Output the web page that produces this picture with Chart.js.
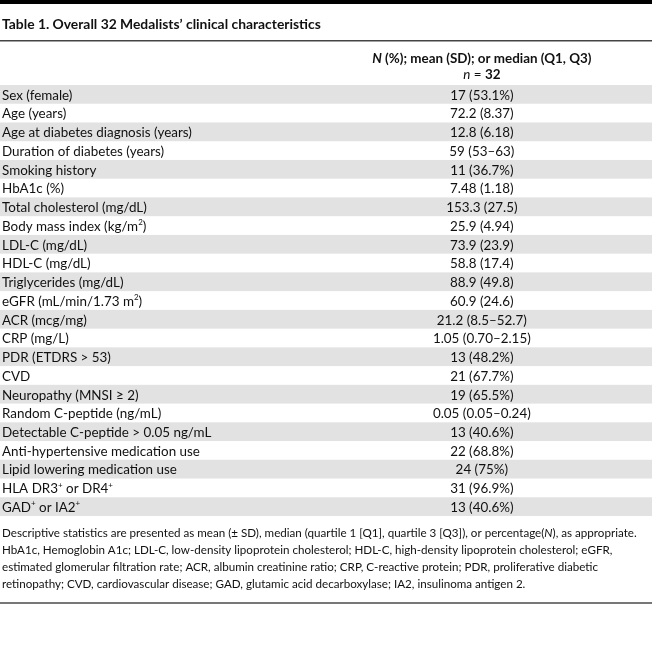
<!DOCTYPE html>
<html>
<head>
<meta charset="utf-8">
<script src="https://cdn.jsdelivr.net/npm/chart.js@4.4.1/dist/chart.umd.min.js"></script>
<style>
  body { margin: 0; background: #fff; }
  canvas { display: block; }
</style>
</head>
<body>
<canvas id="tableChart" width="652" height="669"></canvas>
<script>
const titleText = "Table 1. Overall 32 Medalists’ clinical characteristics";

// header of the value column, as runs of text: [text, style]
const headerLine1 = [["N", "bi"], [" (%); mean (SD); or median (Q1, Q3)", "b"]];
const headerLine2 = [["n", "i"], [" = ", ""], ["32", "b"]];

const rowLabels = [
  "Sex (female)",
  "Age (years)",
  "Age at diabetes diagnosis (years)",
  "Duration of diabetes (years)",
  "Smoking history",
  "HbA1c (%)",
  "Total cholesterol (mg/dL)",
  "Body mass index (kg/m²)",
  "LDL-C (mg/dL)",
  "HDL-C (mg/dL)",
  "Triglycerides (mg/dL)",
  "eGFR (mL/min/1.73 m²)",
  "ACR (mcg/mg)",
  "CRP (mg/L)",
  "PDR (ETDRS > 53)",
  "CVD",
  "Neuropathy (MNSI ≥ 2)",
  "Random C-peptide (ng/mL)",
  "Detectable C-peptide > 0.05 ng/mL",
  "Anti-hypertensive medication use",
  "Lipid lowering medication use",
  "HLA DR3⁺ or DR4⁺",
  "GAD⁺ or IA2⁺",
];

const rowValues = [
  "17 (53.1%)",
  "72.2 (8.37)",
  "12.8 (6.18)",
  "59 (53–63)",
  "11 (36.7%)",
  "7.48 (1.18)",
  "153.3 (27.5)",
  "25.9 (4.94)",
  "73.9 (23.9)",
  "58.8 (17.4)",
  "88.9 (49.8)",
  "60.9 (24.6)",
  "21.2 (8.5–52.7)",
  "1.05 (0.70–2.15)",
  "13 (48.2%)",
  "21 (67.7%)",
  "19 (65.5%)",
  "0.05 (0.05–0.24)",
  "13 (40.6%)",
  "22 (68.8%)",
  "24 (75%)",
  "31 (96.9%)",
  "13 (40.6%)",
];

const noteLines = [
  [["Descriptive statistics are presented as mean (± SD), median (quartile 1 [Q1], quartile 3 [Q3]), or percentage(", ""], ["N", "i"], ["), as appropriate.", ""]],
  [["HbA1c, Hemoglobin A1c; LDL-C, low-density lipoprotein cholesterol; HDL-C, high-density lipoprotein cholesterol; eGFR,", ""]],
  [["estimated glomerular filtration rate; ACR, albumin creatinine ratio; CRP, C-reactive protein; PDR, proliferative diabetic", ""]],
  [["retinopathy; CVD, cardiovascular disease; GAD, glutamic acid decarboxylase; IA2, insulinoma antigen 2.", ""]],
];

const FAMILY = "Lato, 'Noto Sans', sans-serif";
const TEXT = "#111";
const SHADE = "#e2e2e2";
const SUPS = { "²": "2", "⁺": "+" };

function fontFor(style, size) {
  return (style.includes("i") ? "italic " : "") + (style.includes("b") ? "bold " : "") + size + "px " + FAMILY;
}

// split plain strings into runs, turning superscript characters into small raised runs
function toRuns(str, style) {
  const runs = [];
  let cur = "";
  for (const ch of str) {
    if (SUPS[ch]) {
      if (cur) runs.push([cur, style]);
      runs.push([SUPS[ch], style + "s"]);
      cur = "";
    } else cur += ch;
  }
  if (cur) runs.push([cur, style]);
  return runs;
}

function drawRuns(ctx, runs, x, y, align, size) {
  const parts = runs.map(([t, st]) => {
    const sz = st.includes("s") ? Math.round(size * 0.6) : size;
    ctx.font = fontFor(st, sz);
    return { t, st, sz, w: ctx.measureText(t).width };
  });
  const total = parts.reduce((a, p) => a + p.w, 0);
  let cx = align === "center" ? x - total / 2 : x;
  ctx.textAlign = "left";
  ctx.textBaseline = "alphabetic";
  for (const p of parts) {
    ctx.font = fontFor(p.st, p.sz);
    ctx.fillText(p.t, cx, y + size * 0.36 - (p.st.includes("s") ? size * 0.42 : 0));
    cx += p.w;
  }
}

function fitSize(ctx, text, style, target) {
  ctx.font = fontFor(style, 100);
  return 100 * target / ctx.measureText(text).width;
}

const tablePlugin = {
  id: "tableText",
  afterDraw(chart) {
    const ctx = chart.ctx;
    const y = chart.scales.y;
    const x = chart.scales.x;
    const W = chart.width;
    const step = Math.abs(y.getPixelForValue(1) - y.getPixelForValue(0));

    const bodySize = fitSize(ctx, rowLabels[2], "", 190);
    const titleSize = fitSize(ctx, titleText, "b", 319);
    const noteSize = fitSize(ctx, "Descriptive statistics are presented as mean (± SD), median (quartile 1 [Q1], quartile 3 [Q3]), or percentage(N), as appropriate.", "", 636);

    ctx.save();
    // top rule
    ctx.fillStyle = "#000";
    ctx.fillRect(0, 0, W, 4);

    // title
    ctx.fillStyle = TEXT;
    drawRuns(ctx, [[titleText, "b"]], 2, 24, "left", titleSize);

    ctx.fillStyle = "#444";
    ctx.fillRect(0, 40, W, 1.5);

    // header of value column
    const colX = x.getPixelForValue(0.739);
    ctx.fillStyle = TEXT;
    drawRuns(ctx, headerLine1, colX, 58, "center", bodySize);
    drawRuns(ctx, headerLine2, colX, 74, "center", bodySize);

    // rows
    rowLabels.forEach((lab, i) => {
      const cy = y.getPixelForValue(i);
      if (i % 2 === 0) {
        ctx.fillStyle = SHADE;
        ctx.fillRect(0, cy - step / 2, W, step);
      }
      ctx.fillStyle = TEXT;
      drawRuns(ctx, toRuns(lab, ""), x.getPixelForValue(0) + 2, cy + 0.5, "left", bodySize);
      drawRuns(ctx, toRuns(rowValues[i], ""), colX, cy + 0.5, "center", bodySize);
    });

    // footnotes
    const bottom = chart.chartArea.bottom;
    noteLines.forEach((line, i) => {
      drawRuns(ctx, line, 2, bottom + 17 + i * 17, "left", noteSize);
    });

    ctx.fillStyle = "#777";
    ctx.fillRect(0, bottom + 86, W, 2);
    ctx.restore();
  },
};

new Chart(document.getElementById("tableChart"), {
  type: "bar",
  data: { labels: rowLabels, datasets: [] },
  options: {
    indexAxis: "y",
    responsive: false,
    animation: false,
    devicePixelRatio: 1,
    layout: { padding: { top: 85, bottom: 153, left: 0, right: 0 } },
    plugins: { legend: { display: false }, tooltip: { enabled: false } },
    scales: {
      x: { type: "linear", min: 0, max: 1, display: false },
      y: { type: "category", offset: true, display: false, grid: { display: false } },
    },
  },
  plugins: [tablePlugin],
});
</script>
</body>
</html>
